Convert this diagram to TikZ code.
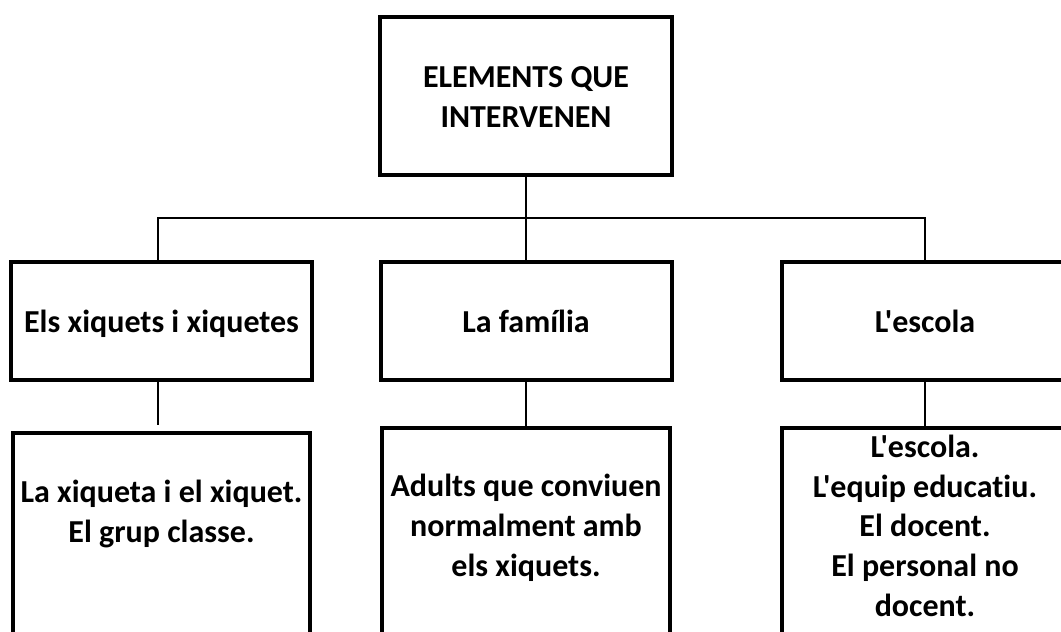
\documentclass[tikz,border=0pt]{standalone}
\usepackage{fontspec}
\setmainfont{Carlito}[Ligatures={TeXOff,CommonOff}]
\begin{document}
\begin{tikzpicture}[x=1pt,y=-1pt,
  box/.style={draw=black,line width=4pt,rectangle,inner sep=0pt,fill=white},
  conn/.style={draw=black,line width=2pt},
  lbl/.style={align=center,anchor=base,inner sep=0pt,font=\fontsize{32}{39.6}\selectfont\bfseries}]
\useasboundingbox (0,0) rectangle (1061,632);
\clip (0,0) rectangle (1061,632);
% boxes
\node[box,minimum width=292pt,minimum height=158pt] (top) at (526,96) {};
\node[box,minimum width=301pt,minimum height=118pt] (L1) at (161.5,321) {};
\node[box,minimum width=291pt,minimum height=118pt] (M1) at (526,321) {};
\node[box,minimum width=286pt,minimum height=118pt] (R1) at (925,321) {};
\node[box,minimum width=297pt,minimum height=300pt,anchor=north] (L2) at (161.5,431) {};
\node[box,minimum width=288pt,minimum height=300pt,anchor=north] (M2) at (526,426) {};
\node[box,minimum width=286pt,minimum height=300pt,anchor=north] (R2) at (925,426) {};
% connectors
\coordinate (busL) at (158,218);
\coordinate (busR) at (925,218);
\draw[conn] (top.south) -- (M1.north);
\draw[conn] (L1.north -| busL) -- (busL) -- (busR) -- (R1.north);
\draw[conn,shorten >=6pt] (L1.south -| busL) -- (L2.north -| busL);
\draw[conn] (M1.south) -- (M2.north);
\draw[conn] (R1.south) -- (R2.north);
% texts (anchor base = baseline of last line)
\node[lbl] (tTop) at (526,127) {ELEMENTS QUE\\INTERVENEN};
\node[lbl] (tL1) at (161.5,332) {Els xiquets i xiquetes};
\node[lbl] (tM1) at (526,332) {La família};
\node[lbl] (tR1) at (925,332) {L'escola};
\node[lbl] (tL2) at (161.5,542) {La xiqueta i el xiquet.\\El grup classe.};
\node[lbl] (tM2) at (526,576) {Adults que conviuen\\normalment amb\\els xiquets.};
\node[lbl] (tR2) at (925,616) {L'escola.\\L'equip educatiu.\\El docent.\\El personal no\\docent.};
\end{tikzpicture}
\end{document}
